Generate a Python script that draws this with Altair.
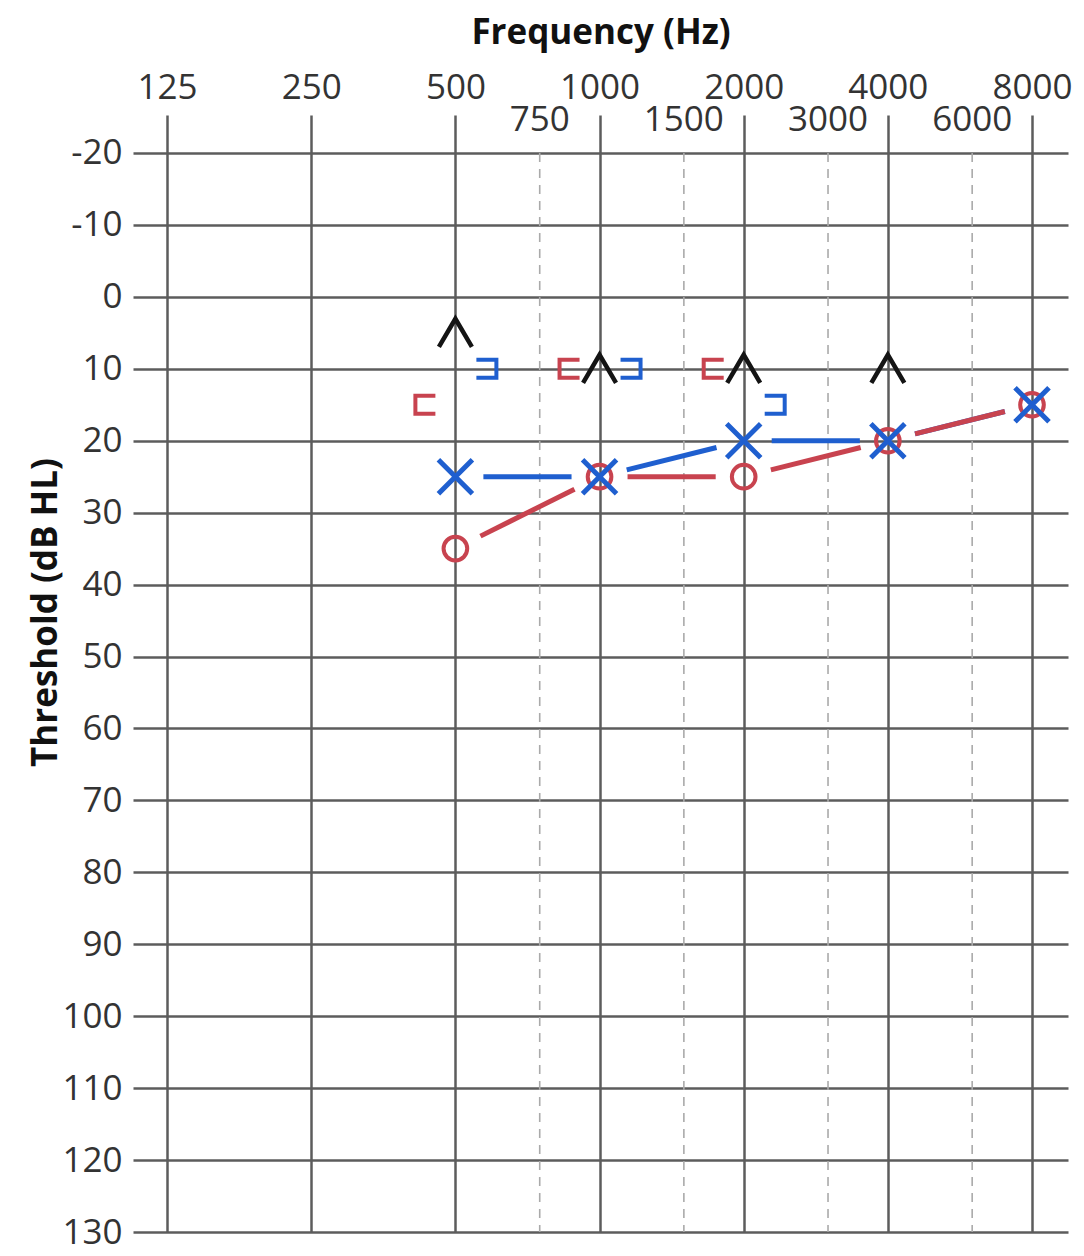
import math
import altair as alt
import pandas as pd

# ---- data ----
freqs = [500, 1000, 2000, 4000, 8000]
right_air = [35, 25, 25, 20, 15]          # red O
left_air = [25, 25, 20, 20, 15]           # blue X
right_bone_freqs = [500, 1000, 2000]
right_bone = [15, 10, 10]                 # red [
left_bone_freqs = [500, 1000, 2000]
left_bone = [10, 10, 15]                  # blue ]
caret_freqs = [500, 1000, 2000, 4000]
caret_vals = [5, 10, 10, 10]              # black ^
major_ticks = [125, 250, 500, 1000, 2000, 4000, 8000]
minor_ticks = [750, 1500, 3000, 6000]
db_ticks = list(range(-20, 131, 10))

# ---- layout / style ----
W, H = 935, 1117
X_DOMAIN = [106.1, 9512]
Y_DOMAIN = [-25.28, 130]
RED = "#c8434f"
BLUE = "#1f5fcf"
BLACK = "#141414"
GRID = "#5c5c5c"
FONT = "Open Sans"
FS = 35
GAP = 28  # px gap between line ends and symbols

PPO = W / math.log2(X_DOMAIN[1] / X_DOMAIN[0])
PPD = H / (Y_DOMAIN[1] - Y_DOMAIN[0])


def segments(fs, ts, ear):
    rows = []
    for i in range(len(fs) - 1):
        f1, f2, t1, t2 = fs[i], fs[i + 1], ts[i], ts[i + 1]
        oct_ = math.log2(f2 / f1)
        L = math.hypot(oct_ * PPO, (t2 - t1) * PPD)
        a = GAP / L
        b = 1 - a
        rows.append({
            "x1": f1 * 2 ** (oct_ * a), "x2": f1 * 2 ** (oct_ * b),
            "y1": t1 + (t2 - t1) * a, "y2": t1 + (t2 - t1) * b, "ear": ear,
        })
    return pd.DataFrame(rows)


x_scale = alt.Scale(type="log", base=2, domain=X_DOMAIN, nice=False, zero=False)
y_scale = alt.Scale(domain=Y_DOMAIN, reverse=True, nice=False, zero=False)

x_axis = alt.Axis(
    orient="top", values=major_ticks, labelExpr="toString(datum.value)",
    grid=True, gridColor=GRID, gridWidth=2.5, ticks=False, tickSize=0, domain=False,
    labelFont=FONT, labelFontSize=FS, labelColor="#333333", labelPadding=17,
    labelBaseline="alphabetic", labelOverlap=False, labelFlush=False,
    title="Frequency (Hz)", titleFont=FONT, titleFontSize=FS, titleFontWeight="bold",
    titleColor="#111111", titleY=-72, titleBaseline="alphabetic",
)
y_axis = alt.Axis(
    orient="left", values=db_ticks, labelExpr="toString(datum.value)",
    grid=True, gridColor=GRID, gridWidth=2.5, ticks=False, tickSize=0, domain=False,
    labelFont=FONT, labelFontSize=FS, labelColor="#333333", labelPadding=11,
    title="Threshold (dB HL)", titleFont=FONT, titleFontSize=FS, titleFontWeight="bold",
    titleColor="#111111", titleX=-88, titleY=497, titleAngle=270,
    titleAlign="center", titleBaseline="middle",
)


def X(field):
    return alt.X(field, type="quantitative", scale=x_scale, axis=x_axis)


def Y(field):
    return alt.Y(field, type="quantitative", scale=y_scale, axis=y_axis)


minor_df = pd.DataFrame({"f": minor_ticks, "label": [str(v) for v in minor_ticks]})

minor_rules = alt.Chart(minor_df).mark_rule(
    color="#aaaaaa", strokeWidth=1.6, strokeDash=[9, 7]
).encode(
    x=X("f"),
    y=alt.YDatum(-20, type="quantitative", scale=y_scale, axis=y_axis),
    y2=alt.Y2Datum(130),
)

minor_labels = alt.Chart(minor_df).mark_text(
    dy=-33, baseline="middle", align="center", font=FONT, fontSize=FS, color="#333333"
).encode(
    x=X("f"),
    y=alt.YDatum(-20, type="quantitative", scale=y_scale, axis=y_axis),
    text="label:N",
)

blue_seg = alt.Chart(segments(freqs, left_air, "L")).mark_rule(
    color=BLUE, strokeWidth=5
).encode(x=X("x1"), x2="x2", y=Y("y1"), y2="y2")

red_seg = alt.Chart(segments(freqs, right_air, "R")).mark_rule(
    color=RED, strokeWidth=5
).encode(x=X("x1"), x2="x2", y=Y("y1"), y2="y2")

rb_df = pd.DataFrame({"f": right_bone_freqs, "t": right_bone})
lb_df = pd.DataFrame({"f": left_bone_freqs, "t": left_bone})
caret_df = pd.DataFrame({"f": caret_freqs, "t": caret_vals})
ra_df = pd.DataFrame({"f": freqs, "t": right_air})
la_df = pd.DataFrame({"f": freqs, "t": left_air})

red_bracket = alt.Chart(rb_df).mark_point(
    shape="M1,-0.9L-1,-0.9L-1,0.9L1,0.9", filled=False, size=400,
    strokeWidth=4, color=RED, opacity=1, xOffset=-30,
).encode(x=X("f"), y=Y("t"))

blue_bracket = alt.Chart(lb_df).mark_point(
    shape="M-1,-0.9L1,-0.9L1,0.9L-1,0.9", filled=False, size=400,
    strokeWidth=4, color=BLUE, opacity=1, xOffset=31,
).encode(x=X("f"), y=Y("t"))

carets = alt.Chart(caret_df).mark_point(
    shape="M-1,0.85L0,-0.85L1,0.85", filled=False, size=1089,
    strokeWidth=4.5, color=BLACK, opacity=1,
).encode(x=X("f"), y=Y("t"))

circles = alt.Chart(ra_df).mark_point(
    shape="circle", filled=False, size=560, strokeWidth=4, color=RED, opacity=1,
).encode(x=X("f"), y=Y("t"))

crosses = alt.Chart(la_df).mark_point(
    shape="M-1,-1L1,1M-1,1L1,-1", filled=False, size=1156,
    strokeWidth=5, color=BLUE, opacity=1,
).encode(x=X("f"), y=Y("t"))

chart = alt.layer(
    minor_rules, minor_labels, blue_seg, red_seg,
    red_bracket, blue_bracket, carets, circles, crosses,
).properties(
    width=W, height=H,
    autosize=alt.AutoSizeParams(type="none"),
    padding={"left": 125, "top": 107, "right": 8, "bottom": 24},
    background="white",
).configure_view(strokeWidth=0)

chart.save("out.html", embed_options={"renderer": "svg", "actions": False})
